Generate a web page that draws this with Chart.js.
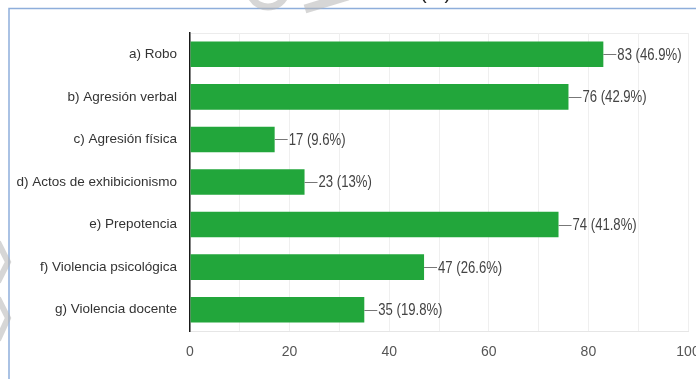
<!DOCTYPE html>
<html>
<head>
<meta charset="utf-8">
<script src="https://cdn.jsdelivr.net/npm/chart.js@4"></script>
<style>
    html, body { margin: 0; padding: 0; background: #fff; overflow: hidden; }
    #wrap { position: absolute; left: 0; top: 0; width: 720px; height: 379px; }
</style>
</head>
<body>
<div id="wrap"><canvas id="chart" width="720" height="379"></canvas></div>
<script>
// --- DATA ---
const categories = [
    'a) Robo',
    'b) Agresión verbal',
    'c) Agresión física',
    'd) Actos de exhibicionismo',
    'e) Prepotencia',
    'f) Violencia psicológica',
    'g) Violencia docente'
];
const counts = [83, 76, 17, 23, 74, 47, 35];
const percents = ['46.9', '42.9', '9.6', '13', '41.8', '26.6', '19.8'];
const xTicks = [0, 20, 40, 60, 80, 100];

const FONT = "'Liberation Sans', Arial, sans-serif";

// frame, faint logo strokes and the clipped heading
const backdrop = {
    id: 'backdrop',
    beforeDraw(chart) {
        const ctx = chart.ctx;
        ctx.save();
        ctx.strokeStyle = '#8eaedb';
        ctx.lineWidth = 1.5;
        ctx.beginPath();
        ctx.moveTo(9, 379);
        ctx.lineTo(9, 8.5);
        ctx.lineTo(720, 8.5);
        ctx.stroke();

        ctx.strokeStyle = 'rgba(180,180,180,0.55)';
        ctx.lineCap = 'butt';
        ctx.lineWidth = 7;
        ctx.beginPath();
        ctx.arc(268, -12, 19, 0.15 * Math.PI, 0.9 * Math.PI);
        ctx.stroke();
        ctx.lineWidth = 9;
        ctx.beginPath();
        ctx.moveTo(305, 9);
        ctx.lineTo(348, -4);
        ctx.stroke();
        ctx.lineWidth = 6;
        ctx.beginPath();
        ctx.moveTo(-2, 242);
        ctx.lineTo(8, 262);
        ctx.lineTo(-2, 282);
        ctx.stroke();
        ctx.beginPath();
        ctx.moveTo(-2, 298);
        ctx.lineTo(8, 318);
        ctx.lineTo(-2, 340);
        ctx.stroke();

        ctx.fillStyle = '#222';
        ctx.font = '20px ' + FONT;
        ctx.textBaseline = 'alphabetic';
        ctx.fillText('(%)', 420, -1);

        // faint top edge of the plot
        const a = chart.chartArea;
        ctx.strokeStyle = '#ececec';
        ctx.lineWidth = 1;
        ctx.beginPath();
        ctx.moveTo(a.left, a.top + 0.5);
        ctx.lineTo(a.right, a.top + 0.5);
        ctx.stroke();
        ctx.restore();
    }
};

// value labels with a short leader line, text set a little condensed
const valueLabels = {
    id: 'valueLabels',
    afterDatasetsDraw(chart) {
        const ctx = chart.ctx;
        const meta = chart.getDatasetMeta(0);
        meta.data.forEach((bar, i) => {
            ctx.save();
            ctx.strokeStyle = '#777';
            ctx.lineWidth = 1;
            ctx.beginPath();
            ctx.moveTo(bar.x, Math.round(bar.y) + 0.5);
            ctx.lineTo(bar.x + 13, Math.round(bar.y) + 0.5);
            ctx.stroke();
            ctx.translate(bar.x + 14, bar.y + 1);
            ctx.scale(0.82, 1);
            ctx.font = '16px ' + FONT;
            ctx.textBaseline = 'middle';
            ctx.textAlign = 'left';
            ctx.fillStyle = '#444';
            ctx.fillText(counts[i] + ' (' + percents[i] + '%)', 0, 0);
            ctx.restore();
        });
    }
};

new Chart(document.getElementById('chart'), {
    type: 'bar',
    data: {
        labels: categories,
        datasets: [{
            data: counts,
            backgroundColor: '#22a63b',
            borderWidth: 0,
            categoryPercentage: 1,
            barPercentage: 0.6
        }]
    },
    options: {
        indexAxis: 'y',
        responsive: false,
        animation: false,
        layout: { padding: { left: 0, top: 33, right: 32, bottom: 0 } },
        plugins: {
            legend: { display: false },
            tooltip: { enabled: false }
        },
        scales: {
            x: {
                min: 0,
                max: 100,
                afterFit: s => { s.height = 48; },
                grid: { color: '#efefef', drawTicks: false },
                border: { color: '#e6e6e6', width: 1 },
                ticks: {
                    stepSize: 10,
                    autoSkip: false,
                    maxRotation: 0,
                    padding: 13,
                    color: '#555',
                    font: { family: FONT, size: 14 },
                    callback: v => xTicks.includes(v) ? v : ''
                }
            },
            y: {
                afterFit: s => { s.width = 190; },
                grid: { display: false, drawTicks: false },
                border: { color: '#1a1a1a', width: 1.5 },
                ticks: {
                    padding: 13,
                    color: '#333',
                    font: { family: FONT, size: 13.5 }
                }
            }
        }
    },
    plugins: [backdrop, valueLabels]
});
</script>
</body>
</html>
